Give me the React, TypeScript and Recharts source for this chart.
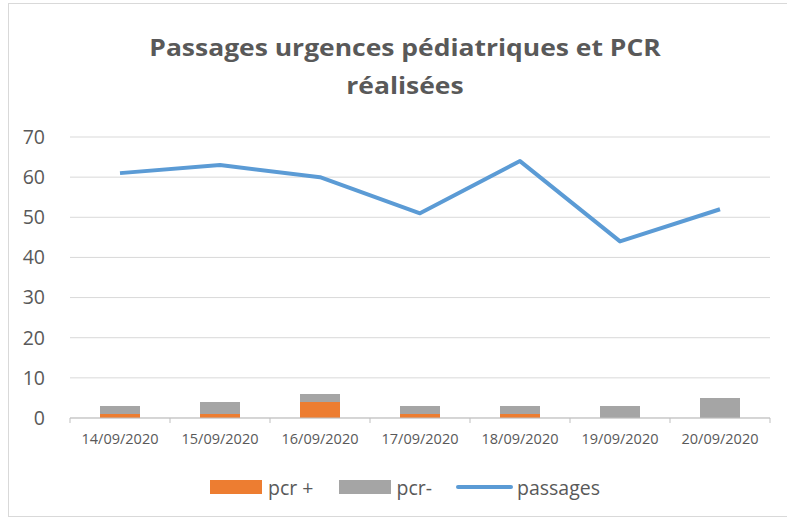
import React from "react";
import { ComposedChart, Bar, Line, XAxis, YAxis, CartesianGrid, Legend } from "recharts";

const categories = ["14/09/2020", "15/09/2020", "16/09/2020", "17/09/2020", "18/09/2020", "19/09/2020", "20/09/2020"];
const pcrPos = [1, 1, 4, 1, 1, 0, 0];
const pcrNeg = [2, 3, 2, 2, 2, 3, 5];
const passages = [61, 63, 60, 51, 64, 44, 52];
const yTicks = [0, 10, 20, 30, 40, 50, 60, 70];

const data = categories.map((c, i) => ({ date: c, pos: pcrPos[i], neg: pcrNeg[i], passages: passages[i] }));

const FONT = "'Open Sans', 'Noto Sans', sans-serif";
const TEXT = "#595959";

const XTick = (props: any) => {
  const { x, y, payload, index } = props;
  const off = payload.offset || 0;
  const last = index === categories.length - 1;
  return (
    <g>
      <line x1={x - off} x2={x - off} y1={y - 8} y2={y - 3} stroke="#bfbfbf" />
      {last && <line x1={x + off} x2={x + off} y1={y - 8} y2={y - 3} stroke="#bfbfbf" />}
      <text x={x} y={y + 17.5} textAnchor="middle" fontSize={14.5} fill={TEXT} fontFamily={FONT}>
        {payload.value}
      </text>
    </g>
  );
};

const LegendContent = () => (
  <div style={{ display: "flex", justifyContent: "flex-start", alignItems: "center", paddingLeft: 210, fontFamily: FONT, fontSize: 19.5, color: TEXT, height: 26 }}>
    <span style={{ display: "inline-block", width: 52, height: 14, background: "#ED7D31", marginRight: 6 }} />
    <span style={{ marginRight: 26 }}>pcr +</span>
    <span style={{ display: "inline-block", width: 52, height: 14, background: "#A5A5A5", marginRight: 5 }} />
    <span style={{ marginRight: 24 }}>pcr-</span>
    <span style={{ display: "inline-block", width: 57, height: 4, borderRadius: 2, background: "#5B9BD5", marginRight: 4 }} />
    <span>passages</span>
  </div>
);

export default function App() {
  return (
    <div style={{ position: "absolute", left: 0, top: 0, width: 787, height: 522, background: "#fff" }}>
      <div style={{ position: "absolute", left: 8, top: 3, width: 790, height: 514, border: "1px solid #d9d9d9", boxSizing: "border-box" }} />
      <div
        style={{
          position: "absolute",
          left: 0,
          top: 28,
          width: 810,
          textAlign: "center",
          fontFamily: FONT,
          fontWeight: 700,
          fontSize: 23,
          lineHeight: "38px",
          color: TEXT,
          transform: "scaleX(1.15)",
          transformOrigin: "405px 0",
        }}
      >
        Passages urgences pédiatriques et PCR
        <br />
        réalisées
      </div>
      <div style={{ position: "absolute", left: 0, top: 0 }}>
        <ComposedChart width={787} height={522} data={data} margin={{ top: 137, right: 17, left: 0, bottom: 34 }} barSize={40}>
          <CartesianGrid vertical={false} stroke="#d9d9d9" />
          <XAxis dataKey="date" height={30} tickLine={false} axisLine={{ stroke: "#bfbfbf" }} tick={<XTick />} interval={0} />
          <YAxis
            width={70}
            domain={[0, 70]}
            ticks={yTicks}
            axisLine={false}
            tickLine={false}
            tick={{ fontSize: 19.5, fill: TEXT, fontFamily: FONT }}
            tickMargin={19}
          />
          <Legend verticalAlign="bottom" height={40} content={<LegendContent />} wrapperStyle={{ top: 474, bottom: "auto", left: 0, width: 787 }} />
          <Bar dataKey="pos" stackId="a" fill="#ED7D31" isAnimationActive={false} />
          <Bar dataKey="neg" stackId="a" fill="#A5A5A5" isAnimationActive={false} />
          <Line dataKey="passages" type="linear" stroke="#5B9BD5" strokeWidth={4} dot={false} isAnimationActive={false} strokeLinejoin="round" />
        </ComposedChart>
      </div>
    </div>
  );
}
